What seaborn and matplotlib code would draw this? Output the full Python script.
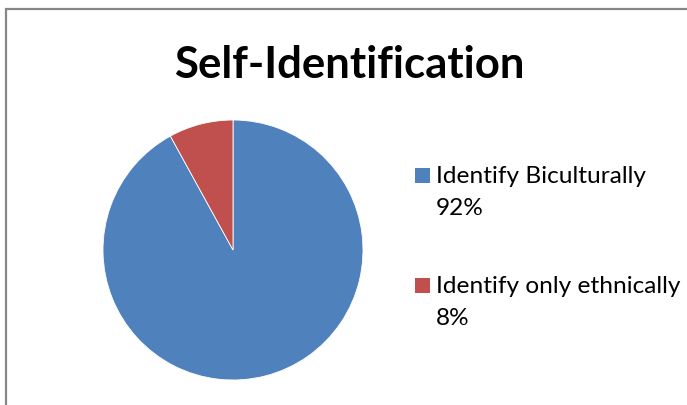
import matplotlib
matplotlib.use("Agg")
import matplotlib.pyplot as plt
from matplotlib.patches import Rectangle
import seaborn as sns

# Survey shares
categories = ["Identify Biculturally", "Identify only ethnically"]
shares = [92, 8]
colors = ["#4F81BD", "#C0504D"]
title = "Self-Identification"

sns.set_theme(style="white")
plt.rcParams["font.family"] = ["Lato", "DejaVu Sans"]

W, H = 687, 405
fig = plt.figure(figsize=(W / 100, H / 100), dpi=100)
fig.patch.set_facecolor("white")

def fx(px):
    return px / W

def fy(py):
    return 1 - py / H

# Chart frame (runs past the right and bottom edges)
fig.patches.append(Rectangle((fx(5.5), -0.1), 2.0, fy(8.5) + 0.1,
                             transform=fig.transFigure, fill=False,
                             edgecolor="#878787", linewidth=1.6, zorder=0))

# Pie
cx, cy, r = 233, 250, 130
ax = fig.add_axes([fx(cx - r), fy(cy + r), 2 * r / W, 2 * r / H])
ax.pie(shares, colors=colors, startangle=90, counterclock=False,
       radius=1.0, wedgeprops=dict(edgecolor="white", linewidth=0.6))
ax.set_xlim(-1, 1)
ax.set_ylim(-1, 1)
ax.set_aspect("equal")
ax.axis("off")

# Title
fig.text(fx(349), fy(78), title, ha="center", va="baseline",
         fontsize=31.5, fontweight="bold", color="black")

# Legend
for i, (cat, val, col) in enumerate(zip(categories, shares, colors)):
    top = 168 + i * 110
    fig.patches.append(Rectangle((fx(415), fy(top + 15)), 15 / W, 15 / H,
                                 transform=fig.transFigure,
                                 facecolor=col, edgecolor="none"))
    fig.text(fx(436), fy(top + 15), cat, ha="left", va="baseline",
             fontsize=17.6, color="black")
    fig.text(fx(436), fy(top + 47), f"{val}%", ha="left", va="baseline",
             fontsize=17.6, color="black")

fig.savefig("out.png", dpi=100)
